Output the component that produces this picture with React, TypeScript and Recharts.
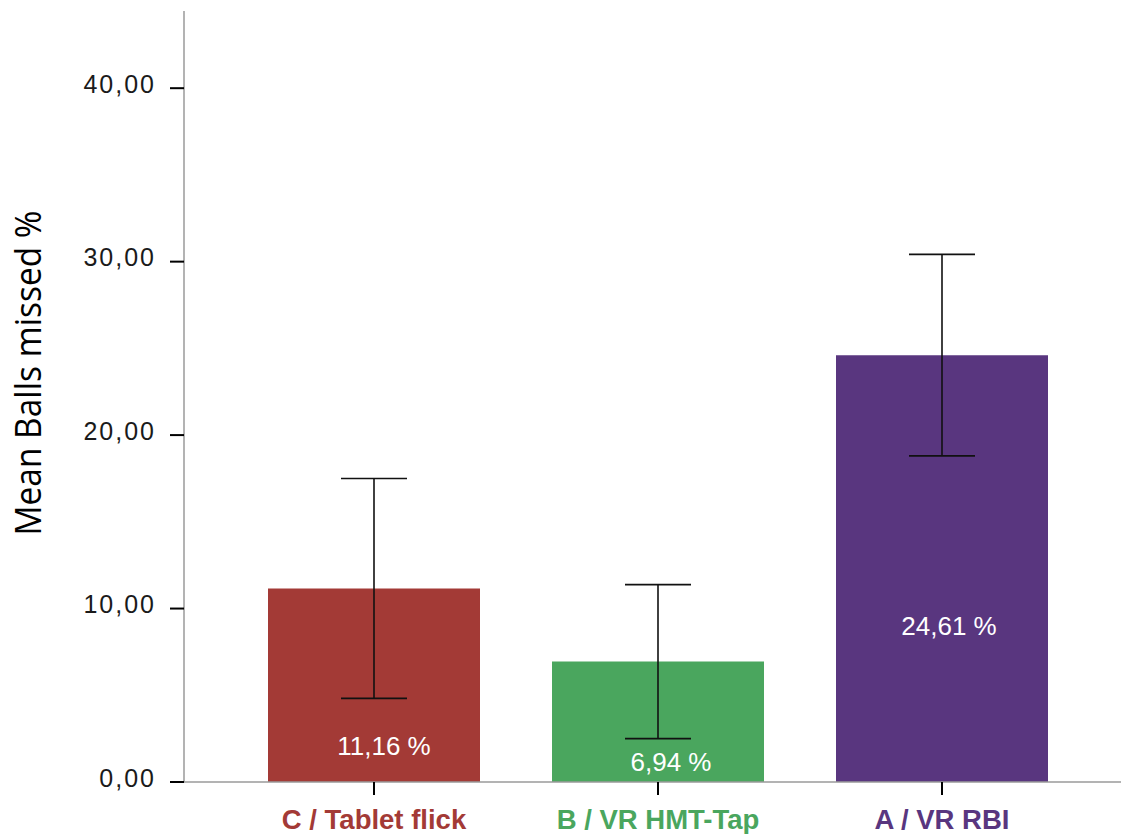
import React from "react";
import {
  BarChart,
  Bar,
  XAxis,
  YAxis,
  ErrorBar,
  LabelList,
  Cell,
} from "recharts";

// data
const conditions = ["C / Tablet flick", "B / VR HMT-Tap", "A / VR RBI"];
const meanMissed = [11.16, 6.94, 24.61];
const errMissed = [6.34, 4.44, 5.81];
const barColors = ["#A33A36", "#4AA65E", "#59367F"];
const yTicks = [0, 10, 20, 30, 40];

const data = conditions.map((name, i) => ({
  name,
  value: meanMissed[i],
  err: errMissed[i],
}));

// where the value text sits inside each bar (px above the baseline, px right of centre)
const labelLift = [27, 11, 147];
const labelShift = [10, 13, 7];

const fmt = (v: number) => v.toFixed(2).replace(".", ",");

function XTick(props: any) {
  const { x, y, payload, index } = props;
  return (
    <text
      x={x}
      y={y + 32}
      textAnchor="middle"
      fill={barColors[index]}
      fontSize={27.5}
      fontWeight="bold"
      fontFamily="'Liberation Sans', Arial, sans-serif"
    >
      {payload.value}
    </text>
  );
}

function YTick(props: any) {
  const { x, y, payload } = props;
  return (
    <text
      x={x}
      y={y + 4.5}
      textAnchor="end"
      fill="#1a1a1a"
      fontSize={25}
      letterSpacing={2}
      fontFamily="'Liberation Sans', Arial, sans-serif"
    >
      {fmt(payload.value)}
    </text>
  );
}

function ValueLabel(props: any) {
  const { x, y, width, height, index, value } = props;
  return (
    <text
      x={x + width / 2 + labelShift[index]}
      y={y + height - labelLift[index]}
      textAnchor="middle"
      fill="#ffffff"
      fontSize={26}
      fontFamily="'Liberation Sans', Arial, sans-serif"
    >
      {fmt(value)} %
    </text>
  );
}

function YLabel() {
  return (
    <text
      transform="translate(41, 373) rotate(-90)"
      textAnchor="middle"
      fill="#000"
      fontSize={37}
      textLength={325}
      lengthAdjust="spacingAndGlyphs"
      fontFamily="'Open Sans', sans-serif"
    >
      Mean Balls missed %
    </text>
  );
}

export default function App() {
  return (
    <div style={{ position: "absolute", left: 0, top: 0, width: 1121, height: 834, background: "#fff" }}>
      <BarChart
        width={1121}
        height={834}
        data={data}
        margin={{ top: 11, right: 0, bottom: 0, left: 0 }}
      >
        <XAxis
          dataKey="name"
          height={52}
          padding={{ left: 48, right: 37 }}
          axisLine={{ stroke: "#9a9a9a", strokeWidth: 1.5 }}
          tickLine={{ stroke: "#000", strokeWidth: 2 }}
          tickSize={13}
          tick={<XTick />}
          interval={0}
        />
        <YAxis
          width={184}
          domain={[0, 44.45]}
          ticks={yTicks}
          allowDataOverflow
          axisLine={{ stroke: "#9a9a9a", strokeWidth: 1.5 }}
          tickLine={{ stroke: "#000", strokeWidth: 2 }}
          tickSize={14}
          tickMargin={14}
          tick={<YTick />}
          label={{ content: () => <YLabel /> }}
        />
        <Bar dataKey="value" barSize={212} isAnimationActive={false}>
          {data.map((d, i) => (
            <Cell key={d.name} fill={barColors[i]} />
          ))}
          <LabelList dataKey="value" content={<ValueLabel />} />
          <ErrorBar dataKey="err" width={33} stroke="#111" strokeWidth={1.6} direction="y" />
        </Bar>
      </BarChart>
    </div>
  );
}
